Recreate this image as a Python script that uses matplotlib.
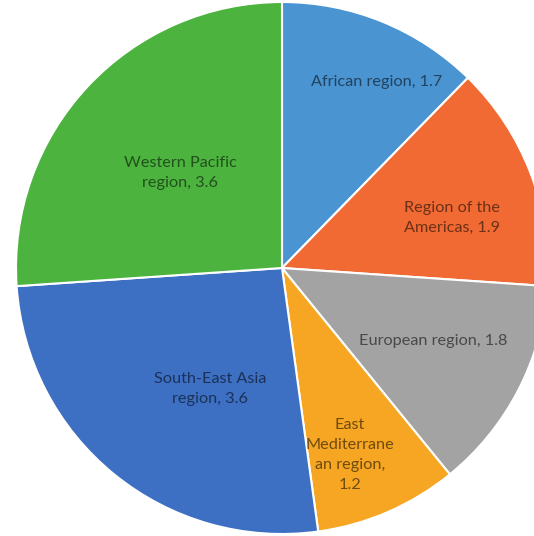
import matplotlib.pyplot as plt
import numpy as np

# regional values (clockwise from 12 o'clock)
regions = ["African region", "Region of the\nAmericas", "European region",
           "East\nMediterrane\nan region,\n", "South-East Asia\nregion", "Western Pacific\nregion"]
values = [1.7, 1.9, 1.8, 1.2, 3.6, 3.6]
colors = ["#4a94d2", "#f26a33", "#a3a3a3", "#f6a622", "#3d6fc3", "#4cb33f"]

# where each label sits (data coords, pie radius = 1)
label_pos = [(0.357, 0.699), (0.639, 0.188), (0.568, -0.274),
             (0.256, -0.703), (-0.271, -0.455), (-0.383, 0.357)]

fig = plt.figure(figsize=(5.34, 5.36), dpi=100)
ax = fig.add_axes([0, 0, 1, 1])
ax.pie(values, colors=colors, startangle=90, counterclock=False, radius=1,
       wedgeprops=dict(edgecolor="white", linewidth=1.5))
ax.set_xlim(-282 / 266, 252 / 266)
ax.set_ylim(-268 / 266, 268 / 266)
ax.set_aspect("auto")
ax.axis("off")

def darken(c, f=0.45):
    r, g, b = plt.matplotlib.colors.to_rgb(c)
    return (r * f, g * f, b * f)

for name, v, c, (x, y) in zip(regions, values, colors, label_pos):
    if name.endswith("\n"):
        txt = name + f"{v}"
    else:
        txt = f"{name}, {v}"
    ax.text(x, y, txt, ha="center", va="center", fontsize=11.7, family="Lato",
            color=darken(c), linespacing=1.55)

fig.savefig("out.png", dpi=100)
